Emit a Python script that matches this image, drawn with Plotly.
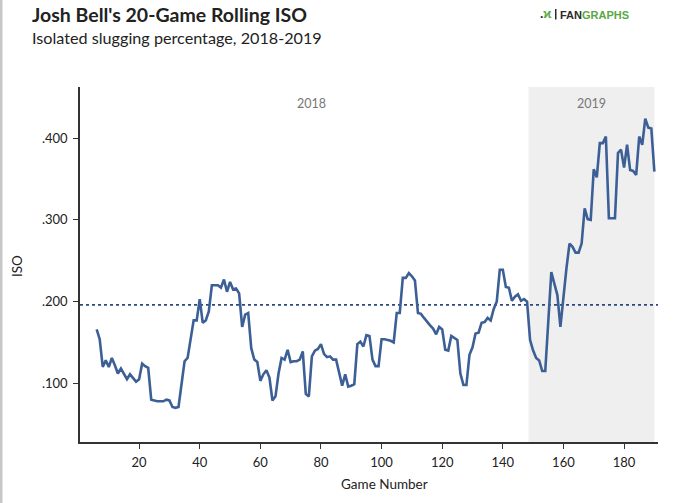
import plotly.graph_objects as go

# ---------------- data ----------------
games = [6, 7, 8, 9, 10, 11, 12, 13, 14, 15, 16, 17, 18, 19, 20, 21, 22, 23, 24, 25,
         26, 27, 28, 29, 30, 31, 32, 33, 35, 36, 37, 38, 39, 40, 41, 42, 43, 44, 45, 46,
         47, 48, 49, 50, 51, 52, 53, 54, 55, 56, 57, 58, 59, 60, 61, 62, 63, 64, 65, 66,
         67, 68, 69, 70, 71, 72, 73, 74, 75, 76, 77, 78, 79, 80, 81, 82, 83, 84, 85, 87,
         88, 89, 90, 91, 92, 93, 94, 95, 96, 97, 98, 99, 100, 101, 102, 103, 104, 105, 106, 107,
         108, 109, 110, 111, 112, 113, 114, 115, 116, 117, 118, 119, 120, 121, 122, 123, 124, 125, 126, 127,
         128, 129, 130, 131, 132, 133, 134, 135, 136, 137, 138, 139, 140, 141, 142, 143, 144, 145, 146, 147,
         148, 149, 150, 151, 152, 153, 154, 156, 157, 158, 159, 160, 161, 162, 163, 164, 165, 166, 167, 168,
         169, 170, 171, 172, 173, 174, 175, 176, 177, 178, 179, 180, 181, 182, 183, 184, 185, 186, 187, 188,
         189, 190]
iso = [.166, .154, .120, .128, .120, .131, .122, .112, .118, .111, .105, .111, .106, .102, .105, .124, .121, .119, .080, .079,
       .078, .078, .078, .080, .079, .071, .070, .071, .127, .131, .153, .177, .177, .203, .174, .177, .188, .220, .220, .220,
       .217, .227, .212, .224, .215, .216, .210, .169, .184, .186, .143, .129, .126, .103, .111, .116, .107, .079, .084, .112,
       .131, .129, .141, .126, .127, .127, .129, .139, .087, .084, .133, .140, .142, .148, .136, .132, .133, .129, .129, .097,
       .111, .096, .097, .099, .148, .151, .145, .159, .158, .129, .121, .121, .154, .154, .153, .152, .150, .186, .186, .229,
       .229, .235, .231, .226, .186, .185, .180, .175, .171, .167, .160, .169, .166, .141, .140, .158, .155, .153, .112, .098,
       .098, .135, .144, .161, .162, .174, .175, .180, .177, .191, .200, .239, .239, .218, .217, .201, .206, .209, .201, .203,
       .200, .153, .140, .131, .128, .115, .115, .236, .222, .208, .169, .210, .241, .271, .267, .260, .260, .271, .314, .301,
       .300, .362, .352, .394, .394, .402, .302, .302, .302, .382, .386, .364, .392, .361, .360, .355, .402, .392, .424, .413,
       .412, .359]

league_avg = 0.196
season_2019_start = 148.5
season_2019_end = 190
x_ticks = [20, 40, 60, 80, 100, 120, 140, 160, 180]
y_ticks = [0.1, 0.2, 0.3, 0.4]
y_ticklabels = [".100", ".200", ".300", ".400"]
season_labels = ["2018", "2019"]

title = "Josh Bell's 20-Game Rolling ISO"
subtitle = "Isolated slugging percentage, 2018-2019"

# ---------------- layout geometry ----------------
FIG_W, FIG_H = 680, 503
L, R, T, B = 80, 22, 87, 61
PW = FIG_W - L - R
PH = FIG_H - T - B
PX_PER_UNIT = 817.0
Y_AT_100 = 383.3  # pixel row of the .100 tick


def px2x(px):
    return (px - L) / PW


def py2y(py):
    return (FIG_H - B - py) / PH


y_lo = 0.1 - ((FIG_H - B) - Y_AT_100) / PX_PER_UNIT
y_hi = y_lo + PH / PX_PER_UNIT

LINE_COLOR = "#3c5f96"
TEXT = "#222222"
FONT = "Lato"

fig = go.Figure()
fig.add_trace(go.Scatter(
    x=games, y=iso, mode="lines",
    line=dict(color=LINE_COLOR, width=2.6),
    hoverinfo="x+y", showlegend=False,
))

shapes = [
    dict(type="rect", xref="x", yref="paper", x0=season_2019_start, x1=season_2019_end,
         y0=0, y1=1, fillcolor="#efefef", line=dict(width=0), layer="below"),
    dict(type="line", xref="paper", yref="y", x0=0, x1=1, y0=league_avg, y1=league_avg,
         line=dict(color="#2e4a7c", width=1.6, dash="dot"), layer="below"),
    # thin grey frame edge at the left of the image
    dict(type="rect", xref="paper", yref="paper", x0=px2x(0), x1=px2x(2.5),
         y0=py2y(FIG_H), y1=py2y(0), fillcolor="#c8c8c8", line=dict(width=0)),
    # logo icon bar
    dict(type="rect", xref="paper", yref="paper", x0=px2x(555), x1=px2x(556.5),
         y0=py2y(19.5), y1=py2y(9), fillcolor="#2b2b2b", line=dict(width=0)),
]

annotations = [
    dict(text="<b>" + title + "</b>", x=px2x(30), y=py2y(14), xref="paper", yref="paper",
         xanchor="left", yanchor="middle", showarrow=False,
         font=dict(family=FONT, size=19.5, color=TEXT)),
    dict(text=subtitle, x=px2x(30), y=py2y(38), xref="paper", yref="paper",
         xanchor="left", yanchor="middle", showarrow=False,
         font=dict(family=FONT, size=16.2, color=TEXT)),
    dict(text=season_labels[0], x=px2x(311), y=py2y(103), xref="paper", yref="paper",
         xanchor="center", yanchor="middle", showarrow=False,
         font=dict(family=FONT, size=12.5, color="#777777")),
    dict(text=season_labels[1], x=(season_2019_start + season_2019_end) / 2, y=py2y(103),
         xref="x", yref="paper", xanchor="center", yanchor="middle", showarrow=False,
         font=dict(family=FONT, size=12.5, color="#777777")),
    dict(text="Game Number", x=px2x(384), y=py2y(484), xref="paper", yref="paper",
         xanchor="center", yanchor="middle", showarrow=False,
         font=dict(family=FONT, size=13.5, color=TEXT)),
    dict(text="ISO", x=px2x(17), y=py2y(266), xref="paper", yref="paper",
         xanchor="center", yanchor="middle", showarrow=False, textangle=-90,
         font=dict(family=FONT, size=13.5, color=TEXT)),
    # logo
    dict(text="<b>.</b><span style='color:#5aa843'><b>ϰ</b></span>", x=px2x(554), y=py2y(14),
         xref="paper", yref="paper", xanchor="right", yanchor="middle", showarrow=False,
         font=dict(family="Liberation Sans", size=12, color="#2b2b2b")),
    dict(text="<b>FAN</b><span style='color:#5aa843'><b>GRAPHS</b></span>", x=px2x(558),
         y=py2y(14.5), xref="paper", yref="paper", xanchor="left", yanchor="middle",
         showarrow=False, font=dict(family="Liberation Sans", size=11, color="#2b2b2b")),
]

fig.update_layout(
    width=FIG_W, height=FIG_H,
    margin=dict(l=L, r=R, t=T, b=B, pad=0),
    paper_bgcolor="white", plot_bgcolor="white",
    shapes=shapes, annotations=annotations,
    font=dict(family=FONT, size=13, color=TEXT),
    xaxis=dict(
        range=[0.5, 191.2], tickvals=x_ticks, showgrid=False, zeroline=False,
        showline=True, linecolor="#333333", linewidth=2,
        ticks="outside", ticklen=5, tickcolor="#333333", tickwidth=1,
        tickfont=dict(family=FONT, size=13, color=TEXT),
        ticklabelstandoff=2,
    ),
    yaxis=dict(
        range=[y_lo, y_hi], tickvals=y_ticks, ticktext=y_ticklabels,
        showgrid=False, zeroline=False,
        showline=True, linecolor="#333333", linewidth=1.5,
        ticks="outside", ticklen=5, tickcolor="#333333", tickwidth=1,
        tickfont=dict(family=FONT, size=13, color=TEXT),
        ticklabelstandoff=3,
    ),
)

fig.write_html(
    "out.html",
    config={"displayModeBar": False},
    post_script="document.body.style.margin='0';document.body.style.padding='0';"
                "document.body.style.overflow='hidden';",
)
